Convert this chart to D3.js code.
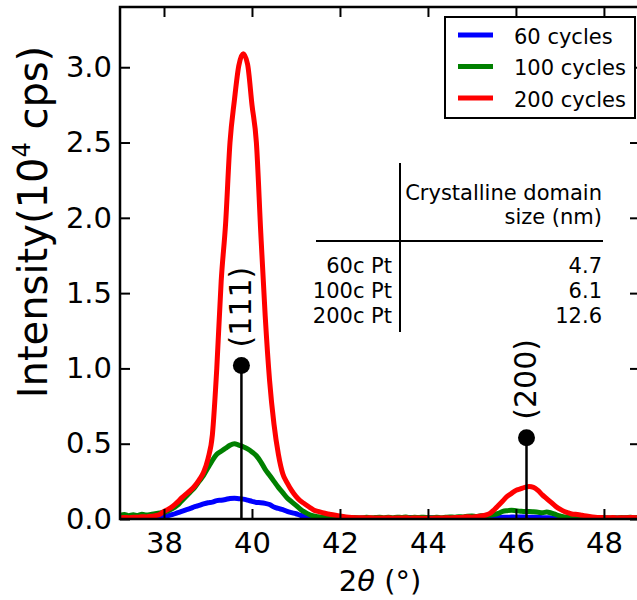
<!DOCTYPE html>
<html>
<head>
<meta charset="utf-8">
<script src="https://cdn.jsdelivr.net/npm/d3@7/dist/d3.min.js"></script>
<style>
  html, body { margin: 0; padding: 0; background: #fff; }
  svg { display: block; font-family: "DejaVu Sans", sans-serif; }
</style>
</head>
<body>
<svg id="chart" width="637" height="600"></svg>
<script>
// 2θ sampling grid (degrees)
const twoTheta = [
  37.0,37.1,37.2,37.3,37.4,37.5,37.6,37.7,37.8,37.9,
  38.0,38.1,38.2,38.3,38.4,38.5,38.6,38.7,38.8,38.9,
  39.0,39.1,39.2,39.3,39.4,39.5,39.6,39.7,39.8,39.9,
  40.0,40.1,40.2,40.3,40.4,40.5,40.6,40.7,40.8,40.9,
  41.0,41.1,41.2,41.3,41.4,41.5,41.6,41.7,41.8,41.9,
  42.0,42.1,42.2,42.3,42.4,42.5,42.6,42.7,42.8,42.9,
  43.0,43.1,43.2,43.3,43.4,43.5,43.6,43.7,43.8,43.9,
  44.0,44.1,44.2,44.3,44.4,44.5,44.6,44.7,44.8,44.9,
  45.0,45.1,45.2,45.3,45.4,45.5,45.6,45.7,45.8,45.9,
  46.0,46.1,46.2,46.3,46.4,46.5,46.6,46.7,46.8,46.9,
  47.0,47.1,47.2,47.3,47.4,47.5,47.6,47.7,47.8,47.9,
  48.0,48.1,48.2,48.3,48.4,48.5,48.6,48.7,48.8
];

// Intensity in units of 10^4 cps
const cycles60 = [
  0.005,0.008,0.004,0.006,0.003,0.007,0.005,0.008,0.010,0.012,
  0.015,0.022,0.030,0.040,0.050,0.060,0.070,0.082,0.090,0.100,
  0.108,0.112,0.122,0.125,0.130,0.136,0.138,0.135,0.132,0.125,
  0.117,0.110,0.108,0.104,0.096,0.080,0.070,0.062,0.050,0.042,
  0.035,0.025,0.018,0.012,0.008,0.006,0.004,0.005,0.003,0.004,
  0.003,0.005,0.002,0.004,0.003,0.006,0.004,0.003,0.005,0.004,
  0.003,0.005,0.004,0.006,0.005,0.008,0.010,0.008,0.006,0.005,
  0.007,0.009,0.005,0.004,0.006,0.003,0.005,0.004,0.006,0.005,
  0.004,0.006,0.005,0.007,0.006,0.008,0.010,0.012,0.011,0.013,
  0.012,0.014,0.013,0.011,0.012,0.010,0.009,0.008,0.007,0.006,
  0.005,0.006,0.004,0.005,0.003,0.005,0.004,0.006,0.005,0.004,
  0.005,0.007,0.004,0.006,0.005,0.008,0.006,0.005,0.007
];

const cycles100 = [
  0.025,0.030,0.022,0.028,0.024,0.032,0.026,0.030,0.035,0.040,
  0.045,0.055,0.070,0.090,0.120,0.150,0.180,0.210,0.250,0.290,
  0.340,0.390,0.430,0.450,0.470,0.490,0.500,0.490,0.480,0.465,
  0.445,0.420,0.380,0.330,0.290,0.250,0.210,0.175,0.140,0.115,
  0.090,0.065,0.045,0.030,0.020,0.015,0.012,0.010,0.008,0.010,
  0.008,0.012,0.007,0.010,0.009,0.006,0.011,0.008,0.010,0.012,
  0.009,0.011,0.008,0.012,0.010,0.013,0.009,0.011,0.010,0.012,
  0.010,0.008,0.012,0.009,0.011,0.013,0.012,0.015,0.014,0.018,
  0.020,0.017,0.022,0.020,0.025,0.030,0.038,0.050,0.055,0.058,
  0.055,0.052,0.050,0.050,0.048,0.045,0.042,0.046,0.040,0.030,
  0.020,0.014,0.010,0.008,0.010,0.007,0.009,0.006,0.008,0.007,
  0.008,0.006,0.009,0.007,0.010,0.008,0.011,0.009,0.010
];

const cycles200 = [
  0.008,0.010,0.009,0.012,0.011,0.015,0.014,0.018,0.022,0.030,
  0.050,0.065,0.085,0.110,0.140,0.165,0.190,0.220,0.260,0.310,
  0.400,0.560,1.000,1.580,1.960,2.500,2.780,3.010,3.090,3.020,
  2.750,2.500,1.900,1.350,0.920,0.630,0.430,0.300,0.240,0.190,
  0.150,0.120,0.100,0.080,0.060,0.050,0.042,0.035,0.030,0.025,
  0.020,0.015,0.012,0.010,0.008,0.009,0.007,0.008,0.006,0.007,
  0.006,0.008,0.005,0.007,0.006,0.008,0.005,0.007,0.006,0.005,
  0.006,0.005,0.007,0.006,0.008,0.007,0.009,0.010,0.012,0.015,
  0.012,0.015,0.020,0.025,0.035,0.060,0.090,0.120,0.150,0.170,
  0.190,0.200,0.210,0.215,0.210,0.190,0.160,0.135,0.110,0.085,
  0.065,0.050,0.040,0.032,0.030,0.025,0.020,0.015,0.012,0.010,
  0.009,0.008,0.010,0.007,0.009,0.008,0.010,0.009,0.008
];

const seriesLabels = ["60 cycles", "100 cycles", "200 cycles"];
const seriesColors = ["#0000ff", "#008000", "#ff0000"];

// Pt reflections: position (2θ) and marker height
const peakLabels = ["(111)", "(200)"];
const peakPositions = [39.76, 46.24];
const peakHeights = [1.02, 0.54];

// Crystalline domain size table
const sampleNames = ["60c Pt", "100c Pt", "200c Pt"];
const domainSizes = ["4.7", "6.1", "12.6"];

const xTicks = [38, 40, 42, 44, 46, 48];
const yTicks = [0.0, 0.5, 1.0, 1.5, 2.0, 2.5, 3.0];

const svg = d3.select("#chart");
const plot = { left: 120, right: 640, top: 7, bottom: 519 };

const x = d3.scaleLinear().domain([37, 48.82]).range([plot.left, plot.right]);
const y = d3.scaleLinear().domain([0, 3.4]).range([plot.bottom, plot.top]);

svg.append("defs").append("clipPath").attr("id", "plotClip")
  .append("rect")
  .attr("x", plot.left).attr("y", plot.top)
  .attr("width", plot.right - plot.left).attr("height", plot.bottom - plot.top);

// data curves
const series = [cycles60, cycles100, cycles200];
const line = d3.line()
  .x(d => x(d[0]))
  .y(d => y(d[1]))
  .curve(d3.curveMonotoneX);

const curves = svg.append("g").attr("clip-path", "url(#plotClip)");
series.forEach((vals, i) => {
  curves.append("path")
    .datum(twoTheta.map((t, j) => [t, vals[j]]))
    .attr("d", line)
    .attr("fill", "none")
    .attr("stroke", seriesColors[i])
    .attr("stroke-width", 5)
    .attr("stroke-linejoin", "round");
});

// reflection stems with markers and labels
peakPositions.forEach((p, i) => {
  curves.append("line")
    .attr("x1", x(p)).attr("x2", x(p))
    .attr("y1", y(0)).attr("y2", y(peakHeights[i]))
    .attr("stroke", "#000").attr("stroke-width", 2.5);
  svg.append("circle")
    .attr("cx", x(p)).attr("cy", y(peakHeights[i]))
    .attr("r", 8.5).attr("fill", "#000");
  svg.append("text")
    .attr("transform", `translate(${x(p) + 10},${y(peakHeights[i]) - 18}) rotate(-90)`)
    .attr("text-anchor", "start")
    .attr("font-size", 30)
    .text(peakLabels[i]);
});

// axes (ticks pointing inward on all four sides)
const tickLen = 10;
const axisBottom = d3.axisBottom(x).tickValues(xTicks).tickSize(-tickLen).tickPadding(13).tickFormat(d3.format("d"));
const axisTop = d3.axisTop(x).tickValues(xTicks).tickSize(-tickLen).tickFormat("");
const axisLeft = d3.axisLeft(y).tickValues(yTicks).tickSize(-tickLen).tickPadding(8).tickFormat(d3.format(".1f"));
const axisRight = d3.axisRight(y).tickValues(yTicks).tickSize(-tickLen).tickFormat("");

function styleAxis(g) {
  g.select(".domain").remove();
  g.selectAll(".tick line").attr("stroke", "#000").attr("stroke-width", 2);
  g.selectAll(".tick text").attr("font-size", 29).attr("fill", "#000").attr("font-family", "DejaVu Sans, sans-serif");
}

svg.append("g").attr("transform", `translate(0,${plot.bottom})`).call(axisBottom).call(styleAxis);
svg.append("g").attr("transform", `translate(0,${plot.top})`).call(axisTop).call(styleAxis);
svg.append("g").attr("transform", `translate(${plot.left},0)`).call(axisLeft).call(styleAxis);
svg.append("g").attr("transform", `translate(${plot.right},0)`).call(axisRight).call(styleAxis);

// frame
svg.append("rect")
  .attr("x", plot.left).attr("y", plot.top)
  .attr("width", plot.right - plot.left).attr("height", plot.bottom - plot.top)
  .attr("fill", "none").attr("stroke", "#000").attr("stroke-width", 2.5);

// axis titles
const xTitle = svg.append("text")
  .attr("x", (plot.left + plot.right) / 2).attr("y", 591)
  .attr("text-anchor", "middle").attr("font-size", 29);
xTitle.append("tspan").text("2");
xTitle.append("tspan").attr("font-style", "italic").text("θ");
xTitle.append("tspan").text(" (°)");

const yTitle = svg.append("text")
  .attr("transform", `translate(47,222) rotate(-90)`)
  .attr("text-anchor", "middle").attr("font-size", 40);
yTitle.append("tspan").text("Intensity(10");
yTitle.append("tspan").attr("font-size", 24).attr("dy", -17).text("4");
yTitle.append("tspan").attr("dy", 17).text(" cps)");

// domain size table
const table = svg.append("g").attr("font-size", 21);
table.append("line").attr("x1", 400).attr("x2", 400).attr("y1", 163).attr("y2", 332)
  .attr("stroke", "#000").attr("stroke-width", 2);
table.append("line").attr("x1", 316).attr("x2", 603).attr("y1", 241).attr("y2", 241)
  .attr("stroke", "#000").attr("stroke-width", 2);
table.append("text").attr("x", 602).attr("y", 200).attr("text-anchor", "end").text("Crystalline domain");
table.append("text").attr("x", 602).attr("y", 224).attr("text-anchor", "end").text("size (nm)");
sampleNames.forEach((n, i) => {
  table.append("text").attr("x", 392).attr("y", 273 + i * 25).attr("text-anchor", "end").text(n);
  table.append("text").attr("x", 602).attr("y", 273 + i * 25).attr("text-anchor", "end").text(domainSizes[i]);
});

// legend
const legend = svg.append("g");
legend.append("rect").attr("x", 445).attr("y", 17).attr("width", 190).attr("height", 101)
  .attr("fill", "#fff").attr("stroke", "#000").attr("stroke-width", 2);
seriesLabels.forEach((lab, i) => {
  const ly = 35 + i * 31.5;
  legend.append("line").attr("x1", 458).attr("x2", 493).attr("y1", ly).attr("y2", ly)
    .attr("stroke", seriesColors[i]).attr("stroke-width", 5);
  legend.append("text").attr("x", 514).attr("y", ly + 8.5).attr("font-size", 21).text(lab);
});
</script>
</body>
</html>
